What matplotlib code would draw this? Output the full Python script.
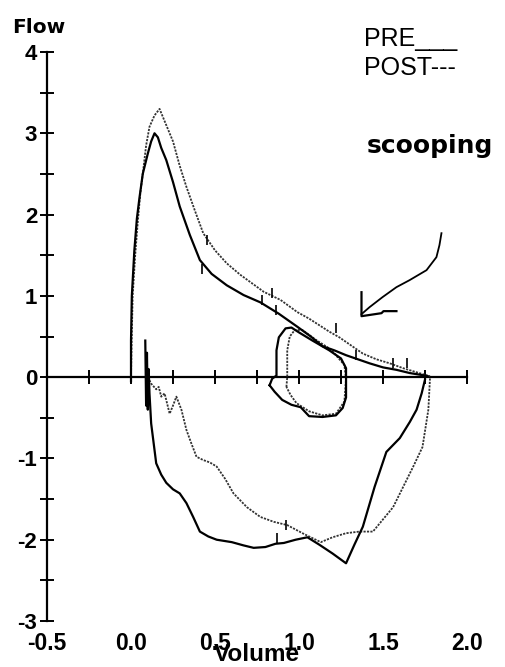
import numpy as np
import matplotlib
matplotlib.use("Agg")
import matplotlib.pyplot as plt

plt.rcParams['axes.unicode_minus'] = False

# ---------------- data ----------------
# PRE (solid) expiratory limb
pre_exp_x = [0.00, 0.00, 0.005, 0.02, 0.035, 0.05, 0.07, 0.10, 0.12, 0.14, 0.16, 0.18, 0.21,
             0.25, 0.29, 0.35, 0.41, 0.48, 0.57, 0.67, 0.77, 0.88, 0.99, 1.07, 1.14, 1.21,
             1.28, 1.35, 1.42, 1.50, 1.58, 1.66, 1.72, 1.77]
pre_exp_y = [-0.05, 0.45, 1.00, 1.56, 1.95, 2.20, 2.50, 2.75, 2.90, 3.00, 2.95, 2.82, 2.67,
             2.40, 2.10, 1.75, 1.44, 1.27, 1.13, 1.01, 0.92, 0.78, 0.62, 0.50, 0.38, 0.33,
             0.27, 0.22, 0.17, 0.12, 0.09, 0.05, 0.03, 0.01]

# PRE (solid) inspiratory limb
pre_insp_x = [0.085, 0.09, 0.095, 0.10, 0.105, 0.11, 0.12, 0.15, 0.18, 0.21, 0.25, 0.29, 0.33,
              0.37, 0.41, 0.46, 0.51, 0.60, 0.67, 0.73, 0.80, 0.86, 0.91, 0.98, 1.05, 1.12,
              1.20, 1.28, 1.33, 1.38, 1.45, 1.52, 1.60, 1.66, 1.70, 1.73, 1.75]
pre_insp_y = [0.45, -0.35, 0.30, -0.40, 0.10, -0.20, -0.57, -1.06, -1.20, -1.30, -1.38, -1.43, -1.55,
              -1.72, -1.90, -1.96, -2.00, -2.03, -2.07, -2.10, -2.09, -2.05, -2.04, -2.00, -1.97, -2.06,
              -2.17, -2.29, -2.06, -1.84, -1.35, -0.92, -0.75, -0.55, -0.40, -0.20, -0.03]

# POST (dotted) expiratory limb
post_exp_x = [0.00, 0.005, 0.01, 0.025, 0.04, 0.055, 0.07, 0.09, 0.11, 0.14, 0.17, 0.20, 0.25,
              0.29, 0.33, 0.38, 0.43, 0.50, 0.57, 0.65, 0.71, 0.79, 0.89, 0.99, 1.06, 1.12,
              1.18, 1.24, 1.31, 1.38, 1.46, 1.54, 1.62, 1.70, 1.78]
post_exp_y = [0.00, 0.54, 1.00, 1.50, 1.90, 2.25, 2.50, 2.85, 3.08, 3.22, 3.30, 3.15, 2.90,
              2.60, 2.34, 2.05, 1.77, 1.56, 1.40, 1.26, 1.17, 1.05, 0.95, 0.80, 0.72, 0.64,
              0.56, 0.49, 0.39, 0.29, 0.22, 0.17, 0.11, 0.06, 0.01]

# POST (dotted) inspiratory limb
post_insp_x = [0.10, 0.12, 0.15, 0.165, 0.18, 0.20, 0.23, 0.25, 0.27, 0.30, 0.33, 0.36, 0.39,
               0.43, 0.47, 0.51, 0.56, 0.61, 0.69, 0.77, 0.85, 0.93, 1.03, 1.13, 1.20, 1.28,
               1.36, 1.44, 1.50, 1.56, 1.62, 1.68, 1.735, 1.77, 1.78]
post_insp_y = [0.00, -0.08, -0.15, -0.12, -0.24, -0.20, -0.45, -0.35, -0.24, -0.40, -0.65, -0.82, -0.98,
               -1.02, -1.05, -1.10, -1.25, -1.43, -1.60, -1.72, -1.78, -1.82, -1.93, -2.03, -1.97, -1.92,
               -1.90, -1.90, -1.75, -1.60, -1.35, -1.10, -0.86, -0.40, 0.00]

# tidal loops
pre_tidal_x = [0.825, 0.84, 0.866, 0.866, 0.88, 0.92, 0.955, 1.00, 1.08, 1.18, 1.25, 1.28, 1.28,
               1.28, 1.26, 1.22, 1.14, 1.06, 1.01, 0.955, 0.90, 0.855, 0.825]
pre_tidal_y = [-0.10, -0.02, 0.02, 0.33, 0.49, 0.60, 0.61, 0.55, 0.45, 0.33, 0.23, 0.11, -0.03,
               -0.25, -0.38, -0.47, -0.49, -0.48, -0.37, -0.34, -0.28, -0.18, -0.10]
post_tidal_x = [0.925, 0.93, 0.93, 0.945, 0.975, 1.02, 1.10, 1.19, 1.27, 1.28, 1.27, 1.22, 1.14,
                1.06, 0.985, 0.95, 0.925]
post_tidal_y = [-0.12, 0.00, 0.33, 0.50, 0.58, 0.58, 0.46, 0.34, 0.15, -0.02, -0.30, -0.45, -0.47,
                -0.42, -0.32, -0.22, -0.12]

# volume hash marks along the traces
hash_x = [0.45, 0.42, 0.84, 0.865, 0.78, 1.22, 1.34, 1.56, 1.64, 0.925, 0.87]
hash_y = [1.69, 1.33, 1.03, 0.82, 0.95, 0.60, 0.27, 0.18, 0.17, -1.82, -1.98]

# hand-drawn arrow pointing at the scooping
arrow_x = [1.848, 1.836, 1.818, 1.759, 1.658, 1.580, 1.497, 1.420, 1.372]
arrow_y = [1.771, 1.624, 1.476, 1.316, 1.193, 1.107, 0.984, 0.861, 0.775]
arrow_head_x = [1.372, 1.372, 1.491, 1.503, 1.580]
arrow_head_y = [1.045, 0.750, 0.787, 0.812, 0.812]

x_ticks = [-0.5, 0.0, 0.5, 1.0, 1.5, 2.0]
x_tick_labels = ["-0.5", "0.0", "0.5", "1.0", "1.5", "2.0"]
y_ticks = [-3, -2.5, -2, -1.5, -1, -0.5, 0, 0.5, 1, 1.5, 2, 2.5, 3, 3.5, 4]
y_tick_labels = ["-3", "", "-2", "", "-1", "", "0", "", "1", "", "2", "", "3", "", "4"]
x_minor_ticks = [-0.5, -0.25, 0.0, 0.25, 0.5, 0.75, 1.0, 1.25, 1.5, 1.75, 2.0]

# ---------------- figure ----------------
W, H = 506, 667
fig = plt.figure(figsize=(W / 100, H / 100), dpi=100)
ax = fig.add_axes([47 / W, 1 - 621 / H, 420 / W, 569 / H])
ax.set_xlim(-0.5, 2.0)
ax.set_ylim(-3, 4)

xtick_font = dict(family="Liberation Sans", weight="bold", size=16.5)
ytick_font = dict(family="Liberation Sans", weight="bold", size=16)

for s in ["top", "right", "bottom"]:
    ax.spines[s].set_visible(False)
ax.spines["left"].set_linewidth(1.6)

ax.set_xticks(x_ticks)
ax.set_xticklabels(x_tick_labels, fontdict=xtick_font)
ax.tick_params(axis="x", length=0, pad=8)
ax.set_yticks(y_ticks)
ax.set_yticklabels(y_tick_labels, fontdict=ytick_font)
ax.tick_params(axis="y", direction="inout", length=10, width=1.4, pad=2)

# zero line with its own ticks
sec = ax.secondary_xaxis(3 / 7)
sec.set_xticks(x_minor_ticks)
sec.tick_params(direction="inout", length=10, width=1.4, labelbottom=False, labeltop=False)
sec.spines["bottom"].set_linewidth(1.6)
sec.spines["top"].set_linewidth(1.6)

post_style = dict(color="#333333", lw=1.3, linestyle=(0, (1.2, 0.7)))
pre_style = dict(color="black", lw=1.6)

ax.plot(post_exp_x, post_exp_y, **post_style)
ax.plot(post_insp_x, post_insp_y, **post_style)
ax.plot(post_tidal_x, post_tidal_y, **post_style)
ax.plot(pre_exp_x, pre_exp_y, **pre_style)
ax.plot(pre_insp_x, pre_insp_y, **pre_style)
ax.plot(pre_tidal_x, pre_tidal_y, **pre_style)
ax.plot(hash_x, hash_y, ls="none", marker="|", ms=7, mew=1.2, color="black")

ax.plot(arrow_x, arrow_y, color="black", lw=1.3, clip_on=False)
ax.plot(arrow_head_x, arrow_head_y, color="black", lw=1.6, clip_on=False)

# texts
fig.text(12 / W, 1 - 33 / H, "Flow", family="DejaVu Sans", weight="bold", size=14.5,
         va="baseline", ha="left")
fig.text(257 / W, 1 / H, "Volume", family="Liberation Sans", weight="bold", size=17.5,
         va="bottom", ha="center")
fig.text(364 / W, 1 - 46 / H, "PRE___", family="Liberation Sans", size=18,
         va="baseline", ha="left")
fig.text(364 / W, 1 - 75 / H, "POST---", family="Liberation Sans", size=18,
         va="baseline", ha="left")
fig.text(367 / W, 1 - 153 / H, "scooping", family="DejaVu Sans", weight="bold", size=18,
         va="baseline", ha="left")

fig.savefig("out.png", dpi=100)
